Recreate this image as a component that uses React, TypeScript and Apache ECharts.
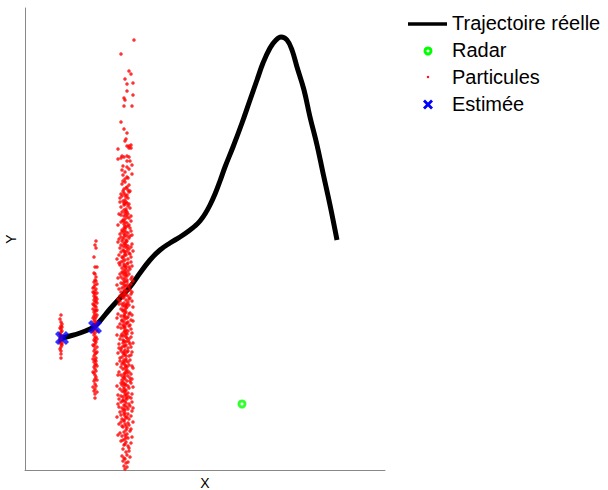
import React, { useEffect, useRef } from "react";
import * as echarts from "echarts";

// True trajectory (X, Y)
const trajectory: [number, number][] = [
  [3.7, 13.2], [4.5, 13.4], [5.5, 13.7], [6.5, 14.1], [7.0, 14.4], [7.5, 14.9],
  [8.5, 16.1], [9.5, 17.2], [10.5, 18.3], [11.5, 19.7], [12.5, 21.0], [13.5, 22.0],
  [14.5, 22.7], [15.5, 23.3], [16.5, 24.0], [17.0, 24.4], [17.5, 24.9], [18.0, 25.6],
  [18.5, 26.5], [19.0, 27.6], [19.5, 28.9], [20.0, 30.3], [20.8, 32.3], [21.7, 34.7],
  [22.5, 37.0], [23.2, 39.0], [23.8, 40.7], [24.5, 42.2], [25.1, 43.0], [25.6, 43.3],
  [26.2, 43.0], [26.7, 42.0], [27.2, 40.3], [27.9, 38.0], [28.5, 35.3], [29.2, 32.5],
  [29.8, 29.7], [30.5, 26.5], [31.2, 23.0],
];

const radar: [number, number][] = [[21.7, 6.6]];

const estimates: [number, number][] = [[3.7, 13.2], [7.0, 14.3]];

const particles1: [number, number][] = [
  [3.6, 15.5], [3.5, 15.1], [3.6, 14.8], [3.7, 14.6], [3.6, 14.4], [3.5, 14.2], [3.6, 14.1],
  [3.7, 13.9], [3.6, 13.8], [3.5, 13.6], [3.6, 13.5], [3.7, 13.4], [3.6, 13.3], [3.5, 13.2],
  [3.6, 13.1], [3.7, 13.0], [3.6, 12.9], [3.5, 12.8], [3.6, 12.6], [3.7, 12.5], [3.6, 12.3],
  [3.5, 12.1], [3.6, 11.9], [3.6, 11.6], [3.6, 11.2], [3.7, 14.3], [3.5, 13.0], [3.7, 12.7],
];

const particles2: [number, number][] = [
  [7.1, 22.9], [7.0, 22.5], [7.1, 22.2], [6.9, 21.3], [7.0, 20.3], [7.2, 20.3], [6.9, 19.7],
  [7.1, 19.3], [7.0, 19.0], [6.9, 18.8], [7.2, 18.6], [7.0, 18.5], [6.9, 18.3], [7.1, 18.1],
  [7.0, 17.9], [6.8, 17.8], [7.2, 17.7], [7.0, 17.6], [6.9, 17.4], [7.1, 17.3], [7.0, 17.2],
  [6.9, 17.0], [7.1, 16.9], [7.0, 16.8], [7.2, 16.7], [6.9, 16.5], [7.0, 16.4], [7.1, 16.3],
  [6.8, 16.1], [7.0, 16.0], [7.1, 15.9], [6.9, 15.8], [7.0, 15.6], [7.2, 15.5], [6.9, 15.4],
  [7.1, 15.3], [7.0, 15.1], [6.9, 14.9], [7.1, 14.8], [7.0, 14.6], [6.8, 14.5], [7.1, 14.4],
  [7.0, 14.2], [6.9, 14.0], [7.2, 13.9], [7.0, 13.7], [6.9, 13.5], [7.1, 13.3], [7.0, 13.2],
  [6.9, 13.0], [7.1, 12.8], [7.0, 12.6], [6.9, 12.4], [7.2, 12.3], [7.0, 12.1], [6.9, 11.9],
  [7.1, 11.7], [7.0, 11.6], [6.9, 11.4], [7.1, 11.2], [7.0, 11.0], [6.9, 10.8], [7.1, 10.6],
  [7.0, 10.5], [6.9, 10.3], [7.0, 10.1], [7.1, 9.9], [6.9, 9.7], [7.0, 9.5], [7.1, 9.3],
  [7.0, 9.1], [6.9, 8.9], [7.0, 8.6], [7.1, 8.4], [7.0, 8.1], [6.9, 7.9], [7.0, 7.6], [7.0, 7.2],
  [6.8, 18.2], [7.2, 17.1], [6.8, 16.6], [7.2, 16.0], [6.8, 15.2], [7.2, 14.7], [6.8, 13.8],
  [7.2, 13.1], [6.8, 12.5], [7.2, 11.8], [6.8, 11.1], [7.2, 10.4], [6.8, 9.8], [7.2, 9.0],
  [6.8, 8.3], [7.2, 7.8], [7.0, 19.6], [7.1, 18.9], [6.9, 17.7], [7.0, 12.9], [7.1, 10.9],
];

const particles3: [number, number][] = [
  // sparse upper tail
  [10.9, 43.0], [9.6, 41.6], [10.4, 39.9], [10.6, 39.6], [10.0, 39.1], [10.8, 38.7], [10.2, 38.6],
  [10.2, 37.9], [10.8, 37.5], [9.9, 37.2], [10.0, 37.0], [9.9, 36.4], [10.7, 36.4], [9.6, 34.8],
  [9.9, 34.1], [10.2, 33.7], [10.1, 33.1], [10.0, 32.9], [10.2, 32.4], [10.4, 32.4], [10.6, 32.5],
  [9.3, 32.1], [10.4, 32.2], [10.6, 32.2], [9.7, 31.4], [9.9, 31.3], [10.2, 31.4], [10.4, 31.3],
  [9.3, 31.1], [9.6, 31.2], [10.2, 30.9], [10.5, 30.9], [9.8, 30.4], [10.2, 30.3], [10.7, 30.5],
  [9.7, 30.0], [10.0, 29.8], [10.4, 30.1], [10.7, 29.6], [9.8, 29.5], [10.2, 29.3], [10.3, 29.2],
  [10.0, 29.1],
  // dense body
  [9.9, 28.1], [10.2, 28.3], [9.7, 28.6], [10.4, 28.5], [10.0, 28.8], [10.1, 28.2], [9.8, 28.9], [10.3, 28.0],
  [10.0, 27.0], [9.7, 27.4], [10.3, 27.2], [9.9, 27.7], [10.2, 27.5], [9.8, 27.9], [10.4, 27.8], [10.1, 27.3], [9.6, 27.6],
  [10.1, 26.1], [9.9, 26.0], [10.3, 26.4], [9.6, 26.3], [10.0, 26.6], [9.8, 26.9], [10.2, 26.7], [10.5, 26.2], [9.9, 26.5], [10.1, 26.8],
  [9.8, 25.0], [10.2, 25.3], [9.6, 25.5], [10.4, 25.2], [10.0, 25.7], [9.9, 25.4], [10.1, 25.9], [10.3, 25.6], [9.7, 25.8], [10.0, 25.1], [10.2, 25.8],
  [10.0, 24.1], [9.7, 24.0], [10.3, 24.4], [9.9, 24.6], [10.5, 24.2], [9.6, 24.8], [10.1, 24.3], [10.2, 24.7], [9.8, 24.9], [10.4, 24.5], [10.0, 24.8], [9.9, 24.2],
  [10.1, 23.0], [9.9, 23.3], [10.4, 23.2], [9.5, 23.6], [10.0, 23.5], [9.7, 23.8], [10.2, 23.4], [10.6, 23.9], [9.8, 23.1], [10.3, 23.7], [9.6, 23.3], [10.1, 23.8], [9.9, 23.6], [10.5, 23.4],
  [9.8, 22.0], [10.2, 22.2], [9.6, 22.5], [10.4, 22.1], [10.0, 22.3], [9.9, 22.7], [10.7, 22.6], [9.7, 22.9], [10.1, 22.8], [10.3, 22.4], [9.5, 22.2], [10.0, 22.6], [10.2, 22.9], [9.8, 22.4],
  [10.0, 21.0], [9.7, 21.3], [10.3, 21.1], [9.9, 21.4], [10.5, 21.6], [9.6, 21.8], [10.1, 21.5], [10.2, 21.9], [9.8, 21.2], [10.4, 21.7], [9.4, 21.5], [10.0, 21.8], [10.6, 21.3], [9.9, 21.9],
  [10.1, 20.1], [9.9, 20.0], [10.4, 20.3], [9.5, 20.5], [10.0, 20.4], [9.7, 20.2], [10.2, 20.6], [10.6, 20.8], [9.8, 20.9], [10.3, 20.7], [9.6, 20.8], [10.1, 20.3], [9.9, 20.6], [10.5, 20.1],
  [9.8, 19.1], [10.2, 19.0], [9.6, 19.3], [10.4, 19.6], [10.0, 19.2], [9.9, 19.5], [10.7, 19.3], [9.7, 19.8], [10.1, 19.7], [10.3, 19.9], [9.5, 19.6], [10.0, 19.8], [10.2, 19.4], [9.8, 19.7],
  [10.0, 18.0], [9.7, 18.2], [10.3, 18.5], [9.9, 18.3], [10.5, 18.0], [9.6, 18.7], [10.1, 18.4], [10.2, 18.8], [9.8, 18.6], [10.4, 18.3], [9.4, 18.1], [10.0, 18.9], [10.6, 18.6], [9.9, 18.8],
  [10.1, 17.0], [9.9, 17.3], [10.4, 17.1], [9.5, 17.4], [10.0, 17.7], [9.7, 17.5], [10.2, 17.9], [10.6, 17.6], [9.8, 17.2], [10.3, 17.4], [9.6, 17.8], [10.1, 17.5], [9.9, 17.9], [10.5, 17.2],
  [9.8, 16.0], [10.2, 16.3], [9.6, 16.1], [10.4, 16.5], [10.0, 16.4], [9.9, 16.7], [10.7, 16.9], [9.7, 16.6], [10.1, 16.2], [10.3, 16.8], [9.5, 16.9], [10.0, 16.0], [10.2, 16.6], [9.8, 16.4],
  [10.0, 15.1], [9.7, 15.0], [10.3, 15.3], [9.9, 15.5], [10.5, 15.7], [9.6, 15.4], [10.1, 15.8], [10.2, 15.2], [9.8, 15.9], [10.4, 15.6], [9.3, 15.6], [10.0, 15.7], [10.6, 15.0], [9.9, 15.3],
  [10.1, 14.0], [9.9, 14.2], [10.4, 14.4], [9.5, 14.6], [10.0, 14.3], [9.7, 14.9], [10.2, 14.7], [10.6, 14.1], [9.8, 14.5], [10.3, 14.8], [9.6, 14.2], [10.1, 14.6], [9.9, 14.8], [10.5, 14.5],
  [9.8, 13.0], [10.2, 13.2], [9.6, 13.4], [10.4, 13.1], [10.0, 13.5], [9.9, 13.8], [10.7, 13.7], [9.7, 13.6], [10.1, 13.3], [10.3, 13.9], [9.5, 13.1], [10.0, 13.9], [10.2, 13.6], [9.8, 13.4],
  [10.0, 12.0], [9.7, 12.3], [10.3, 12.2], [9.9, 12.4], [10.5, 12.6], [9.6, 12.1], [10.1, 12.5], [10.2, 12.9], [9.8, 12.7], [10.4, 12.8], [9.4, 12.6], [10.0, 12.8], [10.6, 12.3], [9.9, 12.9],
  [10.1, 11.1], [9.9, 11.0], [10.4, 11.4], [9.5, 11.2], [10.0, 11.6], [9.7, 11.3], [10.2, 11.8], [10.6, 11.5], [9.8, 11.7], [10.3, 11.9], [9.6, 11.9], [10.1, 11.4], [9.9, 11.5], [10.5, 11.0],
  [9.8, 10.1], [10.2, 10.0], [9.6, 10.3], [10.4, 10.5], [10.0, 10.2], [9.9, 10.7], [10.7, 10.4], [9.7, 10.6], [10.1, 10.9], [10.3, 10.8], [9.5, 10.9], [10.0, 10.5], [10.2, 10.3], [9.8, 10.8],
  [10.0, 9.1], [9.7, 9.0], [10.3, 9.4], [9.9, 9.6], [10.5, 9.2], [9.6, 9.5], [10.1, 9.9], [10.2, 9.7], [9.8, 9.3], [10.4, 9.8], [9.4, 9.8], [10.0, 9.4], [10.6, 9.6], [9.9, 9.2],
  [10.1, 8.0], [9.9, 8.3], [10.4, 8.2], [9.5, 8.1], [10.0, 8.6], [9.7, 8.5], [10.2, 8.9], [10.6, 8.7], [9.8, 8.8], [10.3, 8.4], [9.6, 8.7], [10.1, 8.5], [9.9, 8.1], [10.5, 8.9],
  [9.8, 7.0], [10.2, 7.1], [9.6, 7.4], [10.4, 7.3], [10.0, 7.5], [9.9, 7.8], [10.7, 7.6], [9.7, 7.9], [10.1, 7.2], [10.3, 7.7], [9.3, 7.5], [10.0, 7.9], [10.2, 7.4], [9.8, 7.3],
  [10.0, 6.0], [9.7, 6.2], [10.3, 6.1], [9.9, 6.5], [10.5, 6.4], [9.6, 6.8], [10.1, 6.7], [10.2, 6.3], [9.8, 6.9], [10.4, 6.6], [9.4, 6.3], [10.0, 6.9], [10.7, 6.8], [9.9, 6.1],
  [9.9, 5.0], [10.2, 5.3], [9.6, 5.5], [10.4, 5.1], [10.0, 5.7], [9.8, 5.9], [10.3, 5.6], [10.1, 5.2], [9.5, 5.8], [10.6, 5.4], [9.7, 5.1], [10.0, 5.4],
  [10.1, 4.0], [9.8, 4.3], [10.4, 4.5], [9.6, 4.8], [10.0, 4.6], [10.2, 4.2], [9.9, 4.9], [10.6, 4.1], [9.7, 4.4], [10.3, 4.7],
  [10.0, 3.1], [9.7, 3.4], [10.3, 3.2], [9.9, 3.8], [10.2, 3.6], [9.5, 3.7], [10.5, 3.9], [10.1, 3.3], [9.8, 3.0],
  [9.8, 2.1], [10.3, 2.4], [10.0, 2.6], [9.6, 2.9], [10.4, 2.2], [10.1, 2.8], [9.9, 2.5], [10.6, 2.7],
  [9.9, 1.2], [10.2, 1.5], [10.4, 1.9], [9.7, 1.4], [10.1, 1.8], [10.0, 1.1], [10.5, 1.3],
  [10.0, 0.1], [9.9, 0.4], [10.2, 0.3], [10.1, 0.7], [9.8, 0.9], [10.3, 0.8],
  // outer edges of the body
  [9.3, 3.5], [10.7, 3.3], [9.4, 4.6], [10.8, 4.8], [9.2, 5.3], [10.7, 5.9], [9.3, 6.6], [10.8, 6.2],
  [9.4, 7.1], [10.6, 7.2], [9.2, 8.4], [10.8, 8.3], [9.3, 9.5], [10.7, 9.1], [9.2, 10.6], [10.8, 10.2],
  [9.3, 11.7], [10.7, 11.8], [9.4, 12.2], [10.8, 12.7], [9.2, 13.5], [10.6, 13.3], [9.3, 14.3], [10.8, 14.9],
  [9.2, 15.2], [10.7, 15.5], [9.4, 16.6], [10.8, 16.3], [9.3, 17.1], [10.7, 17.8], [9.2, 18.5], [10.8, 18.9],
  [9.3, 19.2], [10.6, 19.1], [9.4, 20.7], [10.7, 20.4], [9.2, 21.1], [10.8, 21.9], [9.3, 22.8], [10.6, 22.3],
  [9.4, 23.1], [10.7, 23.5], [9.3, 24.5], [10.6, 24.9], [9.4, 25.6], [10.6, 25.4], [9.5, 26.8], [10.4, 26.6],
  [9.5, 27.2], [10.5, 27.9],
  // extra core fill
  [10.0, 3.5], [10.1, 4.4], [9.9, 5.6], [10.0, 6.4], [10.1, 7.6], [9.9, 8.6], [10.0, 9.7], [10.1, 10.4],
  [9.9, 11.8], [10.0, 12.4], [10.1, 13.7], [9.9, 14.4], [10.0, 15.4], [10.1, 16.5], [9.9, 17.6], [10.0, 18.5],
  [10.1, 19.5], [9.9, 20.4], [10.0, 21.6], [10.1, 22.5], [9.9, 23.9], [10.0, 24.4], [10.1, 25.5], [9.9, 26.7],
  [10.0, 27.5],
];

const particles: [number, number][] = [...particles1, ...particles2, ...particles3];

const legendLabels = ["Trajectoire réelle", "Radar", "Particules", "Estimée"];

const X_PATH = "path://M0,2.2 L2.2,0 L5,2.8 L7.8,0 L10,2.2 L7.2,5 L10,7.8 L7.8,10 L5,7.2 L2.2,10 L0,7.8 L2.8,5 Z";
const FONT = "'Liberation Sans', Arial, Helvetica, sans-serif";

export default function App() {
  const ref = useRef<HTMLDivElement>(null);
  useEffect(() => {
    if (!ref.current) return;
    const chart = echarts.init(ref.current, null, { renderer: "svg" });
    const legendText = (t: string, y: number) => ({
      type: "text",
      left: 452,
      top: y - 11,
      style: { text: t, fill: "#000", font: `20px ${FONT}` },
    });
    chart.setOption({
      animation: false,
      backgroundColor: "#fff",
      grid: { left: 25, top: 8, right: 223, bottom: 20, outerBoundsMode: "none", containLabel: false },
      xAxis: {
        type: "value",
        min: 0,
        max: 36,
        name: "X",
        nameLocation: "middle",
        nameGap: 6,
        nameTextStyle: { fontFamily: FONT, fontSize: 14, color: "#000", verticalAlign: "top" },
        axisLine: { show: true, onZero: false, lineStyle: { color: "#888", width: 1 } },
        axisTick: { show: false },
        axisLabel: { show: false },
        splitLine: { show: false },
      },
      yAxis: {
        type: "value",
        min: 0,
        max: 46.2,
        name: "Y",
        nameLocation: "middle",
        nameGap: 7,
        nameTextStyle: { fontFamily: FONT, fontSize: 14, color: "#000" },
        axisLine: { show: true, onZero: false, lineStyle: { color: "#888", width: 1 } },
        axisTick: { show: false },
        axisLabel: { show: false },
        splitLine: { show: false },
      },
      series: [
        {
          name: legendLabels[0],
          type: "line",
          data: trajectory,
          smooth: 0.4,
          showSymbol: false,
          lineStyle: { color: "#000", width: 5 },
          z: 2,
        },
        {
          name: legendLabels[1],
          type: "scatter",
          data: radar,
          symbol: "circle",
          symbolSize: 6,
          itemStyle: { color: "#fff", borderColor: "#00ff00", borderWidth: 3 },
          z: 3,
        },
        {
          name: legendLabels[2],
          type: "scatter",
          data: particles,
          symbol: "circle",
          symbolSize: 3.5,
          itemStyle: { color: "#ff0000" },
          z: 4,
        },
        {
          name: legendLabels[3],
          type: "scatter",
          data: estimates,
          symbol: X_PATH,
          symbolSize: 14,
          itemStyle: { color: "#0000ff" },
          z: 5,
        },
      ],
      graphic: [
        { type: "line", shape: { x1: 408, y1: 24, x2: 447, y2: 24 }, style: { stroke: "#000", lineWidth: 3.5 } },
        { type: "circle", shape: { cx: 428, cy: 51, r: 3 }, style: { fill: "#fff", stroke: "#00ff00", lineWidth: 3 } },
        { type: "circle", shape: { cx: 428, cy: 77, r: 1.2 }, style: { fill: "#ff0000" } },
        {
          type: "polygon",
          shape: {
            points: [
              [423, 101.5], [425, 99.5], [428, 102.5], [431, 99.5], [433, 101.5], [430, 104.5],
              [433, 107.5], [431, 109.5], [428, 106.5], [425, 109.5], [423, 107.5], [426, 104.5],
            ],
          },
          style: { fill: "#0000ff" },
        },
        legendText(legendLabels[0], 24),
        legendText(legendLabels[1], 51),
        legendText(legendLabels[2], 78),
        legendText(legendLabels[3], 105),
      ],
    });
    return () => chart.dispose();
  }, []);
  return (
    <div
      ref={ref}
      style={{ position: "fixed", left: 0, top: 0, width: 608, height: 490, background: "#fff" }}
    />
  );
}
